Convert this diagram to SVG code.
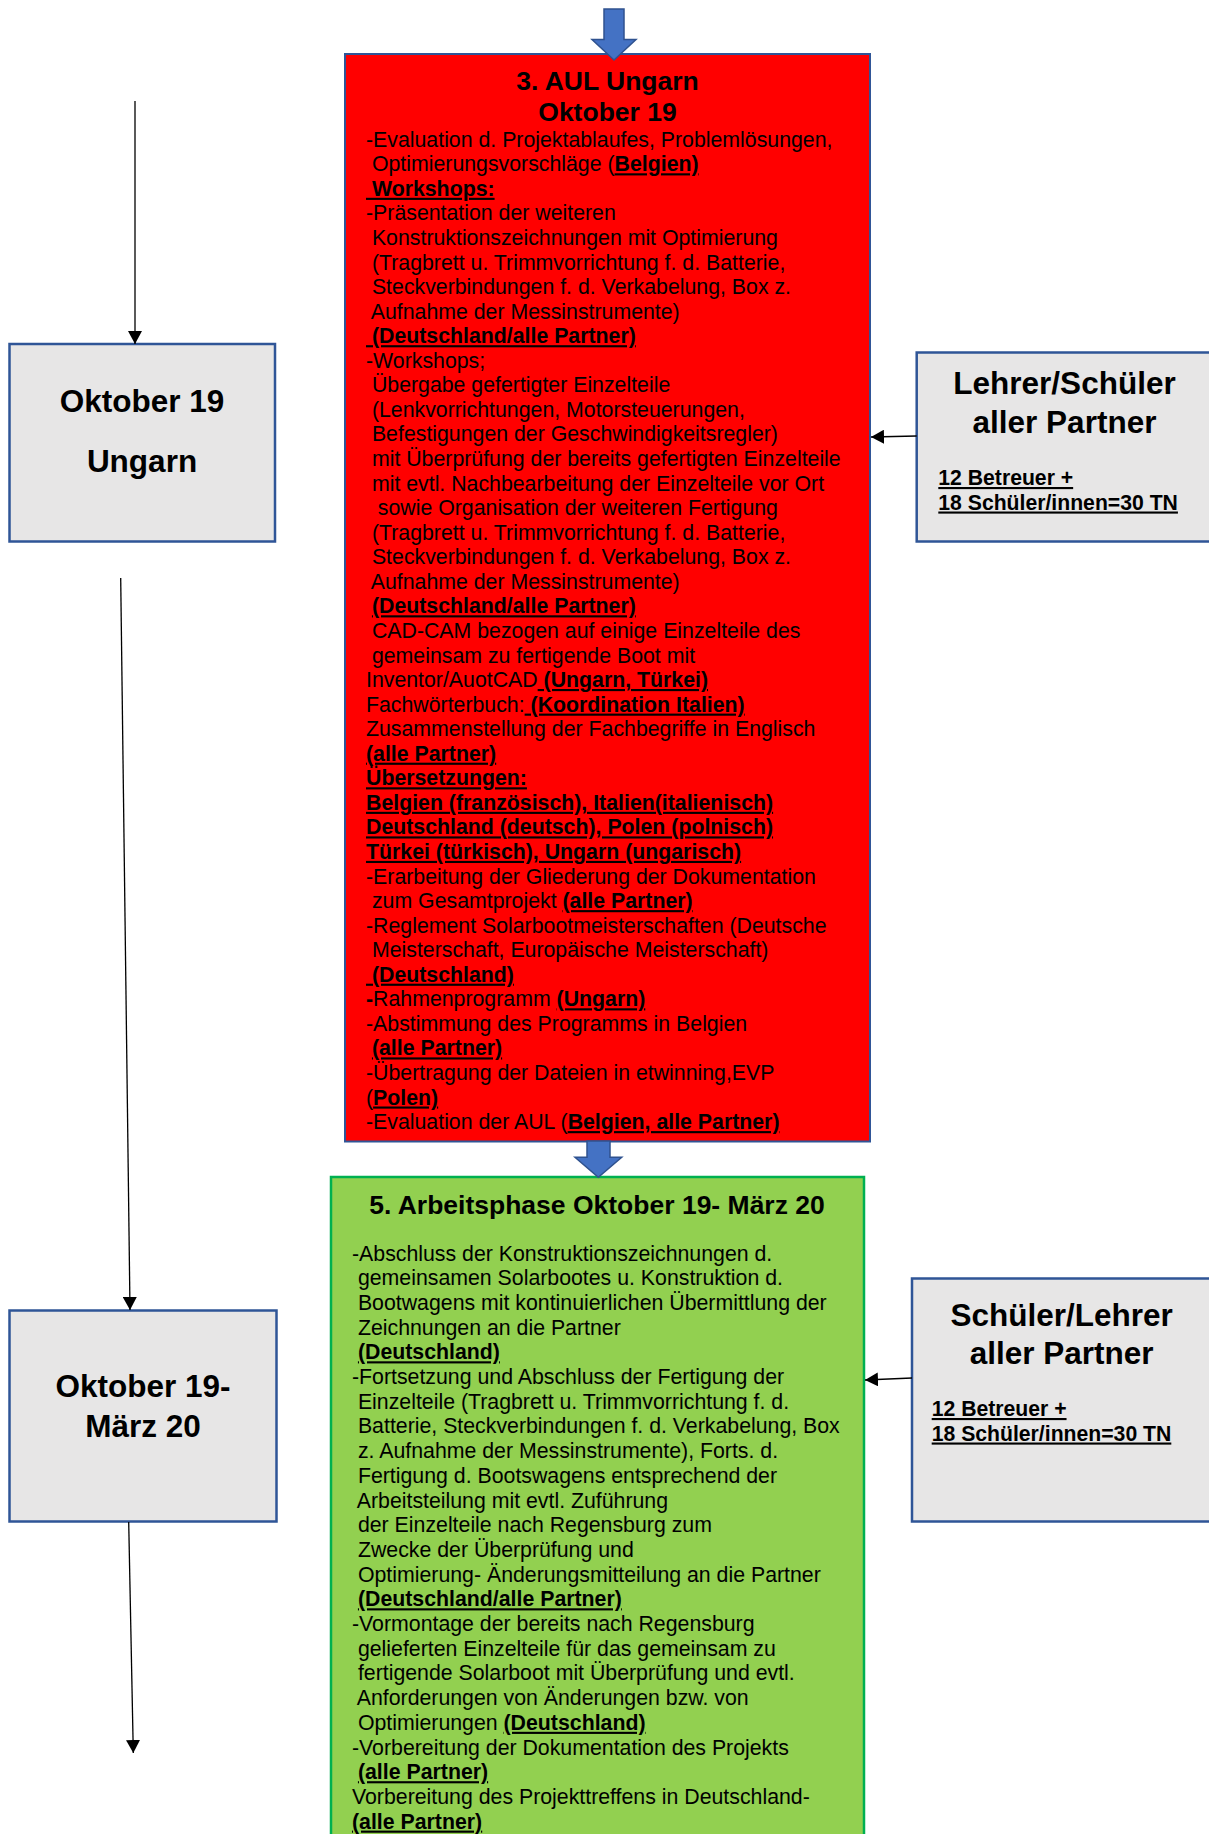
<svg xmlns="http://www.w3.org/2000/svg" width="1209" height="1834" viewBox="0 0 1209 1834" xml:space="preserve">
<defs>
<style>
text{font-family:"Liberation Sans",Arial,sans-serif;fill:#000;white-space:pre}
.body{font-size:21.3px}
.ttl{font-size:26.5px;font-weight:bold;text-anchor:middle}
.big{font-size:31.5px;font-weight:bold;text-anchor:middle}
.sm{font-size:21.2px;font-weight:bold;text-decoration:underline}
.bu{font-weight:bold;text-decoration:underline}
.b{font-weight:bold}
.gray{fill:#E7E6E6;stroke:#2F5597;stroke-width:2.5}
.red{fill:#FF0000;stroke:#2F5597;stroke-width:2}
.green{fill:#92D050;stroke:#00B050;stroke-width:2.5}
.blk{fill:#4472C4;stroke:#2F528F;stroke-width:1.5}
.con{stroke:#000;stroke-width:1.3;fill:none;marker-end:url(#ah)}
</style>
<marker id="ah" markerUnits="userSpaceOnUse" markerWidth="14" markerHeight="14" refX="13" refY="7" orient="auto"><path d="M0,0 L13,7 L0,14 Z" fill="#000"/></marker>
</defs>
<g id="node-okt19"><rect class="gray" x="9.5" y="344" width="265.5" height="197.5"/><text class="big" x="142" y="412">Oktober 19</text><text class="big" x="142" y="472">Ungarn</text></g>
<g id="node-okt19-maerz20"><rect class="gray" x="9.5" y="1310.5" width="267" height="211"/><text class="big" x="143" y="1397">Oktober 19-</text><text class="big" x="143" y="1436.5">März 20</text></g>
<g id="node-lehrer"><rect class="gray" x="916.7" y="352.5" width="310" height="189"/><text class="big" x="1064.5" y="394">Lehrer/Schüler</text><text class="big" x="1064.5" y="433">aller Partner</text><text class="sm" x="938.3" y="485">12 Betreuer +</text><text class="sm" x="938.3" y="509.5">18 Schüler/innen=30 TN</text></g>
<g id="node-schueler"><rect class="gray" x="912" y="1278.5" width="310" height="243"/><text class="big" x="1061.7" y="1326">Schüler/Lehrer</text><text class="big" x="1061.7" y="1364">aller Partner</text><text class="sm" x="931.7" y="1416">12 Betreuer +</text><text class="sm" x="931.7" y="1440.5">18 Schüler/innen=30 TN</text></g>
<g id="node-aul"><rect class="red" x="345" y="54" width="525" height="1087.5"/>
<text class="ttl" x="607.5" y="90">3. AUL Ungarn</text>
<text class="ttl" x="607.5" y="121">Oktober 19</text>
<text class="body" x="366" y="146.7">-Evaluation d. Projektablaufes, Problemlösungen,</text>
<text class="body" x="366" y="171.3"> Optimierungsvorschläge (<tspan class="bu">Belgien)</tspan></text>
<text class="body" x="366" y="195.8"><tspan class="bu"> Workshops:</tspan></text>
<text class="body" x="366" y="220.4">-Präsentation der weiteren</text>
<text class="body" x="366" y="244.9"> Konstruktionszeichnungen mit Optimierung</text>
<text class="body" x="366" y="269.5"> (Tragbrett u. Trimmvorrichtung f. d. Batterie,</text>
<text class="body" x="366" y="294.1"> Steckverbindungen f. d. Verkabelung, Box z.</text>
<text class="body" x="366" y="318.6"> Aufnahme der Messinstrumente)</text>
<text class="body" x="366" y="343.2"><tspan class="bu"> (Deutschland/alle Partner)</tspan></text>
<text class="body" x="366" y="367.7">-Workshops;</text>
<text class="body" x="366" y="392.3"> Übergabe gefertigter Einzelteile</text>
<text class="body" x="366" y="416.9"> (Lenkvorrichtungen, Motorsteuerungen,</text>
<text class="body" x="366" y="441.4"> Befestigungen der Geschwindigkeitsregler)</text>
<text class="body" x="366" y="466.0"> mit Überprüfung der bereits gefertigten Einzelteile</text>
<text class="body" x="366" y="490.5"> mit evtl. Nachbearbeitung der Einzelteile vor Ort</text>
<text class="body" x="366" y="515.1">  sowie Organisation der weiteren Fertigung</text>
<text class="body" x="366" y="539.7"> (Tragbrett u. Trimmvorrichtung f. d. Batterie,</text>
<text class="body" x="366" y="564.2"> Steckverbindungen f. d. Verkabelung, Box z.</text>
<text class="body" x="366" y="588.8"> Aufnahme der Messinstrumente)</text>
<text class="body" x="366" y="613.3"> <tspan class="bu">(Deutschland/alle Partner)</tspan></text>
<text class="body" x="366" y="637.9"> CAD-CAM bezogen auf einige Einzelteile des</text>
<text class="body" x="366" y="662.5"> gemeinsam zu fertigende Boot mit</text>
<text class="body" x="366" y="687.0">Inventor/AuotCAD<tspan class="bu"> (Ungarn, Türkei)</tspan></text>
<text class="body" x="366" y="711.6">Fachwörterbuch:<tspan class="bu"> (Koordination Italien)</tspan></text>
<text class="body" x="366" y="736.1">Zusammenstellung der Fachbegriffe in Englisch</text>
<text class="body" x="366" y="760.7"><tspan class="bu">(alle Partner)</tspan></text>
<text class="body" x="366" y="785.3"><tspan class="bu">Übersetzungen:</tspan></text>
<text class="body" x="366" y="809.8"><tspan class="bu">Belgien (französisch), Italien(italienisch)</tspan></text>
<text class="body" x="366" y="834.4"><tspan class="bu">Deutschland (deutsch), Polen (polnisch)</tspan></text>
<text class="body" x="366" y="858.9"><tspan class="bu">Türkei (türkisch), Ungarn (ungarisch)</tspan></text>
<text class="body" x="366" y="883.5">-Erarbeitung der Gliederung der Dokumentation</text>
<text class="body" x="366" y="908.1"> zum Gesamtprojekt <tspan class="bu">(alle Partner)</tspan></text>
<text class="body" x="366" y="932.6">-Reglement Solarbootmeisterschaften (Deutsche</text>
<text class="body" x="366" y="957.2"> Meisterschaft, Europäische Meisterschaft)</text>
<text class="body" x="366" y="981.7"><tspan class="bu"> (Deutschland)</tspan></text>
<text class="body" x="366" y="1006.3"><tspan class="b">-</tspan>Rahmenprogramm <tspan class="bu">(Ungarn)</tspan></text>
<text class="body" x="366" y="1030.9">-Abstimmung des Programms in Belgien</text>
<text class="body" x="366" y="1055.4"> <tspan class="bu">(alle Partner)</tspan></text>
<text class="body" x="366" y="1080.0">-Übertragung der Dateien in etwinning,EVP</text>
<text class="body" x="366" y="1104.5">(<tspan class="bu">Polen)</tspan></text>
<text class="body" x="366" y="1129.1">-Evaluation der AUL (<tspan class="bu">Belgien, alle Partner)</tspan></text>
</g>
<g id="node-arbeitsphase"><rect class="green" x="331" y="1177" width="533" height="700"/>
<text class="ttl" x="597" y="1213.5">5. Arbeitsphase Oktober 19- März 20</text>
<text class="body" x="352" y="1260.5">-Abschluss der Konstruktionszeichnungen d.</text>
<text class="body" x="352" y="1285.2"> gemeinsamen Solarbootes u. Konstruktion d.</text>
<text class="body" x="352" y="1309.9"> Bootwagens mit kontinuierlichen Übermittlung der</text>
<text class="body" x="352" y="1334.6"> Zeichnungen an die Partner</text>
<text class="body" x="352" y="1359.3"> <tspan class="bu">(Deutschland)</tspan></text>
<text class="body" x="352" y="1384">-Fortsetzung und Abschluss der Fertigung der</text>
<text class="body" x="352" y="1408.7"> Einzelteile (Tragbrett u. Trimmvorrichtung f. d.</text>
<text class="body" x="352" y="1433.4"> Batterie, Steckverbindungen f. d. Verkabelung, Box</text>
<text class="body" x="352" y="1458.1"> z. Aufnahme der Messinstrumente), Forts. d.</text>
<text class="body" x="352" y="1482.8"> Fertigung d. Bootswagens entsprechend der</text>
<text class="body" x="352" y="1507.5"> Arbeitsteilung mit evtl. Zuführung</text>
<text class="body" x="352" y="1532.2"> der Einzelteile nach Regensburg zum</text>
<text class="body" x="352" y="1556.9"> Zwecke der Überprüfung und</text>
<text class="body" x="352" y="1581.6"> Optimierung- Änderungsmitteilung an die Partner</text>
<text class="body" x="352" y="1606.3"> <tspan class="bu">(Deutschland/alle Partner)</tspan></text>
<text class="body" x="352" y="1631">-Vormontage der bereits nach Regensburg</text>
<text class="body" x="352" y="1655.7"> gelieferten Einzelteile für das gemeinsam zu</text>
<text class="body" x="352" y="1680.4"> fertigende Solarboot mit Überprüfung und evtl.</text>
<text class="body" x="352" y="1705.1"> Anforderungen von Änderungen bzw. von</text>
<text class="body" x="352" y="1729.8"> Optimierungen <tspan class="bu">(Deutschland)</tspan></text>
<text class="body" x="352" y="1754.5">-Vorbereitung der Dokumentation des Projekts</text>
<text class="body" x="352" y="1779.2"> <tspan class="bu">(alle Partner)</tspan></text>
<text class="body" x="352" y="1803.9">Vorbereitung des Projekttreffens in Deutschland-</text>
<text class="body" x="352" y="1828.6"><tspan class="bu">(alle Partner)</tspan></text>
</g>
<g id="connectors">
<polygon class="blk" points="604,9 624,9 624,39.5 636,39.5 614,60 592,39.5 604,39.5"/>
<polygon class="blk" points="587,1141 610,1141 610,1157.3 621.7,1157.3 598.3,1177.3 575,1157.3 587,1157.3"/>
<line class="con" x1="135" y1="101" x2="135" y2="344"/>
<line class="con" x1="120.7" y1="578" x2="130" y2="1310"/>
<line class="con" x1="128.7" y1="1522" x2="133.3" y2="1753"/>
<line class="con" x1="916.7" y1="436" x2="871" y2="437"/>
<line class="con" x1="912" y1="1378" x2="865" y2="1380"/>
</g>
</svg>
